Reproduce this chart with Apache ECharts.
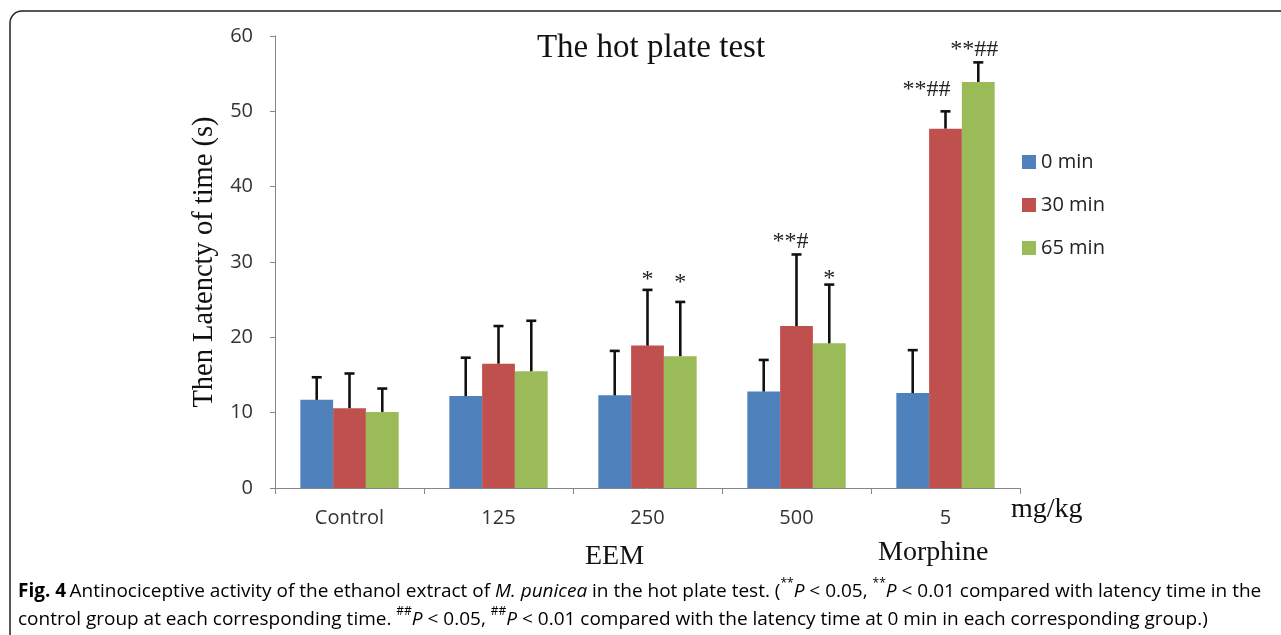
<!DOCTYPE html>
<html>
<head>
<meta charset="utf-8">
<script src="https://cdn.jsdelivr.net/npm/echarts@6/dist/echarts.min.js"></script>
<style>
html,body{margin:0;padding:0;background:#fff;}
#chart{width:1281px;height:635px;}
</style>
</head>
<body>
<div id="chart"></div>
<script>
// ---- data ----
const categories = ['Control', '125', '250', '500', '5'];
const seriesNames = ['0 min', '30 min', '65 min'];
const mean0  = [11.7, 12.2, 12.3, 12.8, 12.6];
const mean30 = [10.6, 16.5, 18.9, 21.5, 47.7];
const mean65 = [10.1, 15.5, 17.5, 19.2, 53.9];
const sd0  = [3.0, 5.1, 5.9, 4.2, 5.7];
const sd30 = [4.6, 5.0, 7.4, 9.5, 2.3];
const sd65 = [3.1, 6.7, 7.2, 7.8, 2.6];
const sig0  = ['', '', '', '', ''];
const sig30 = ['', '', '*', '**#', '**##'];
const sig65 = ['', '', '*', '*', '**##'];
const yTicks = [0, 10, 20, 30, 40, 50, 60];

const colors = ['#4f81bd', '#c0504d', '#9bbb59'];
const means = [mean0, mean30, mean65];
const sds = [sd0, sd30, sd65];
const sigs = [sig0, sig30, sig65];
const GAP = 0.34;

// layout tweaks for the significance marks (baseline lift above the cap, horizontal nudge), in px
const SIG_FONT = 24;
const sigLift = [[0,0,0,0,0],[0,0,2,5,14],[0,0,11,-2,5]];
const sigNudge = [[0,0,0,0,0],[0,0,0,-6,-19],[0,0,0,0,-4]];

const chart = echarts.init(document.getElementById('chart'));

function errSeries(k) {
  return {
    type: 'custom',
    name: 'err' + k,
    z: 5,
    data: categories.map((c, i) => [i, means[k][i], sds[k][i]]),
    encode: { x: 0, y: 1 },
    renderItem: function (params, api) {
      const idx = params.dataIndex;
      const i = api.value(0);
      const m = api.value(1);
      const s = api.value(2);
      const base = api.coord([i, m]);
      const top = api.coord([i, m + s]);
      const catW = api.size([1, 0])[0];
      const bw = catW * (1 - GAP) / 3;
      const x = base[0] + (k - 1) * bw;
      const st = { stroke: '#111', lineWidth: 2.6 };
      const children = [
        { type: 'line', shape: { x1: x, y1: base[1], x2: x, y2: top[1] }, style: st },
        { type: 'line', shape: { x1: x - 5, y1: top[1], x2: x + 5, y2: top[1] }, style: st }
      ];
      const lab = sigs[k][idx];
      if (lab) {
        const baseline = top[1] - sigLift[k][idx];
        children.push({
          type: 'text',
          style: {
            x: x + sigNudge[k][idx], y: baseline - 0.33 * SIG_FONT, text: lab,
            fill: '#222', font: SIG_FONT + 'px "Liberation Serif", serif',
            textAlign: 'center', textVerticalAlign: 'middle'
          }
        });
      }
      return { type: 'group', children: children };
    }
  };
}

const CAP_FS = 19;
const sup = { fontSize: 12, verticalAlign: 'top', lineHeight: 12, fontFamily: 'Open Sans', color: '#231f20' };
const capBase = { fontFamily: 'Open Sans', fontSize: CAP_FS, color: '#231f20', lineHeight: 28 };

const option = {
  animation: false,
  backgroundColor: '#fff',
  title: {
    text: 'The hot plate test',
    left: 646, top: 27, textAlign: 'center',
    textStyle: { fontFamily: 'Liberation Serif', fontSize: 33, fontWeight: 'normal', color: '#111' }
  },
  legend: {
    data: seriesNames,
    orient: 'vertical',
    left: 1022, top: 152, padding: 0,
    itemWidth: 14, itemHeight: 14, itemGap: 23,
    icon: 'rect',
    textStyle: { fontFamily: 'Open Sans', fontSize: 20, color: '#222' },
    itemStyle: { borderWidth: 0 }
  },
  grid: { left: 275, right: 261, top: 36, bottom: 147, containLabel: false },
  xAxis: {
    type: 'category',
    data: categories,
    axisLine: { lineStyle: { color: '#868686', width: 1 } },
    axisTick: { show: true, length: 6, lineStyle: { color: '#868686' } },
    axisLabel: { fontFamily: 'Open Sans', fontSize: 20, color: '#333', margin: 20 }
  },
  yAxis: {
    type: 'value',
    min: yTicks[0], max: yTicks[yTicks.length - 1], interval: 10,
    name: 'Then Latencty of time (s)',
    nameLocation: 'middle', nameGap: 50,
    nameTextStyle: { fontFamily: 'Liberation Serif', fontSize: 28.5, color: '#111' },
    axisLine: { show: true, lineStyle: { color: '#868686', width: 1 } },
    axisTick: { show: true, length: 5, lineStyle: { color: '#868686' } },
    splitLine: { show: false },
    axisLabel: { fontFamily: 'Open Sans', fontSize: 20, color: '#333', margin: 22 }
  },
  series: [
    ...seriesNames.map((n, k) => ({
      type: 'bar', name: n, data: means[k],
      itemStyle: { color: colors[k] },
      barGap: '0%', barCategoryGap: (GAP * 100) + '%'
    })),
    errSeries(0), errSeries(1), errSeries(2)
  ],
  graphic: [
    {
      type: 'rect', silent: true,
      shape: { x: 10, y: 11, width: 1320, height: 700, r: 12 },
      style: { fill: 'none', stroke: '#231f20', lineWidth: 1.5 }
    },
    { type: 'text', left: 1011, top: 496, style: { text: 'mg/kg', font: '28px "Liberation Serif", serif', fill: '#111' } },
    { type: 'text', left: 585, top: 543, style: { text: 'EEM', font: '28px "Liberation Serif", serif', fill: '#111' } },
    { type: 'text', left: 878, top: 539, style: { text: 'Morphine', font: '28px "Liberation Serif", serif', fill: '#111' } },
    {
      type: 'text', left: 18, top: 578,
      style: {
        text: '{b|Fig. 4} {n|Antinociceptive activity of the ethanol extract of }{i|M. punicea}{n| in the hot plate test. (}{s|**}{i|P}{n| < 0.05, }{s|**}{i|P}{n| < 0.01 compared with latency time in the}',
        rich: {
          b: Object.assign({}, capBase, { fontWeight: 'bold' }),
          n: capBase,
          i: Object.assign({}, capBase, { fontStyle: 'italic' }),
          s: sup
        }
      }
    },
    {
      type: 'text', left: 18, top: 606,
      style: {
        text: '{n|control group at each corresponding time. }{s|##}{i|P}{n| < 0.05, }{s|##}{i|P}{n| < 0.01 compared with the latency time at 0 min in each corresponding group.)}',
        rich: {
          n: capBase,
          i: Object.assign({}, capBase, { fontStyle: 'italic' }),
          s: sup
        }
      }
    }
  ]
};
chart.setOption(option);
</script>
</body>
</html>
